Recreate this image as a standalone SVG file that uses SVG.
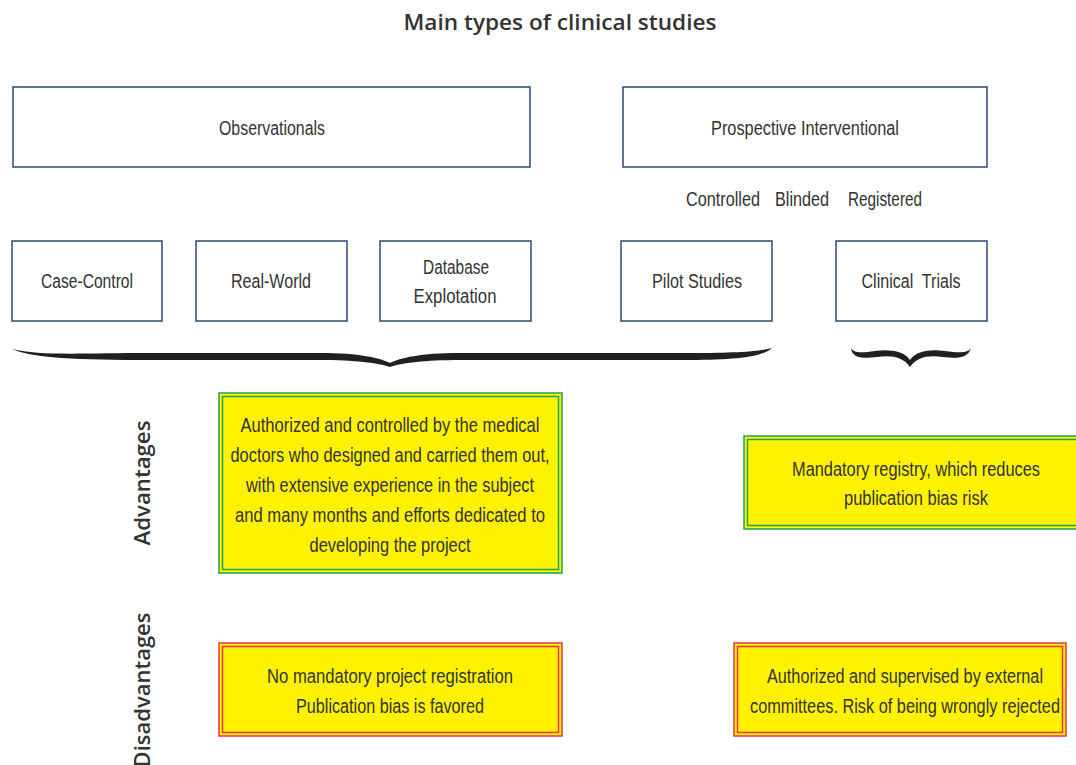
<svg xmlns="http://www.w3.org/2000/svg" width="1076" height="765" viewBox="0 0 1076 765">
<style>
.box{fill:#ffffff;stroke:#1f3d6d;stroke-width:1.4}
.t{font-family:"Liberation Sans",Arial,sans-serif;font-size:20px;fill:#333333;text-anchor:middle}
.title{font-family:"Open Sans","Liberation Sans",sans-serif;font-weight:600;font-size:22px;fill:#333333;text-anchor:middle}
.side{font-family:"Open Sans","Liberation Sans",sans-serif;font-weight:600;font-size:22px;fill:#333333;text-anchor:middle}
.gout{fill:#fff200;stroke:#1aa35a;stroke-width:1.5}
.gin{fill:#fff200;stroke:#1aa35a;stroke-width:1.5}
.rout{fill:#fff200;stroke:#e8334a;stroke-width:1.5}
.rin{fill:#fff200;stroke:#e8334a;stroke-width:1.5}
.brace{fill:#231f20}
</style>
<rect width="1076" height="765" fill="#ffffff"/>
<text class="title" x="560" y="30" textLength="313" lengthAdjust="spacingAndGlyphs">Main types of clinical studies</text>

<g id="observationals"><rect class="box" x="13" y="87" width="517" height="80"/><text class="t" x="272" y="135" textLength="106" lengthAdjust="spacingAndGlyphs">Observationals</text></g>
<g id="prospective"><rect class="box" x="623" y="87" width="364" height="80"/><text class="t" x="805" y="135" textLength="188" lengthAdjust="spacingAndGlyphs">Prospective Interventional</text></g>

<g id="attrs"><text class="t" x="723" y="206" textLength="74" lengthAdjust="spacingAndGlyphs">Controlled</text><text class="t" x="802" y="206" textLength="54" lengthAdjust="spacingAndGlyphs">Blinded</text><text class="t" x="885" y="206" textLength="74" lengthAdjust="spacingAndGlyphs">Registered</text></g>

<g id="case-control"><rect class="box" x="12" y="241" width="150" height="80"/><text class="t" x="87" y="288" textLength="92" lengthAdjust="spacingAndGlyphs">Case-Control</text></g>
<g id="real-world"><rect class="box" x="196" y="241" width="151" height="80"/><text class="t" x="271" y="288" textLength="80" lengthAdjust="spacingAndGlyphs">Real-World</text></g>
<g id="database"><rect class="box" x="380" y="241" width="151" height="80"/><text class="t" x="456" y="274" textLength="66" lengthAdjust="spacingAndGlyphs">Database</text><text class="t" x="455" y="303" textLength="83" lengthAdjust="spacingAndGlyphs">Explotation</text></g>
<g id="pilot"><rect class="box" x="621" y="241" width="151" height="80"/><text class="t" x="697" y="288" textLength="90" lengthAdjust="spacingAndGlyphs">Pilot Studies</text></g>
<g id="clinical"><rect class="box" x="836" y="241" width="151" height="80"/><text class="t" x="911" y="288" xml:space="preserve" textLength="99" lengthAdjust="spacingAndGlyphs">Clinical  Trials</text></g>

<g id="connectors">
<path class="brace" d="M12,349 C40,356 80,353 150,353 L320,353 C360,353 380,358 390,363 C400,358 420,353 460,353 L690,353 C740,353 762,351 772,348 C764,356 740,360 690,360 L460,360 C425,360 402,363 390,367 C378,363 355,360 320,360 L150,360 C80,360 30,358 12,349 Z"/>
<path class="brace" d="M851,348 C852,358 862,359 877,357 C892,355 903,357 910,367 C917,357 928,355 943,357 C958,359 968,358 971,348 C968,353 960,353 945,351 C930,349 916,351 910,360 C904,351 890,349 875,351 C860,353 854,353 851,348 Z"/>
</g>

<text class="side" transform="translate(150,483) rotate(-90)" textLength="125" lengthAdjust="spacingAndGlyphs">Advantages</text>
<text class="side" transform="translate(150,690) rotate(-90)">Disadvantages</text>

<g id="adv-left"><rect class="gout" x="219" y="393" width="343" height="180"/><rect class="gin" x="222.5" y="396.5" width="336" height="173"/>
<text class="t" x="390" y="432" textLength="299" lengthAdjust="spacingAndGlyphs">Authorized and controlled by the medical</text>
<text class="t" x="390" y="462" textLength="319" lengthAdjust="spacingAndGlyphs">doctors who designed and carried them out,</text>
<text class="t" x="390" y="492" textLength="288" lengthAdjust="spacingAndGlyphs">with extensive experience in the subject</text>
<text class="t" x="390" y="522" textLength="310" lengthAdjust="spacingAndGlyphs">and many months and efforts dedicated to</text>
<text class="t" x="390" y="552" textLength="161" lengthAdjust="spacingAndGlyphs">developing the project</text></g>

<g id="adv-right"><rect class="gout" x="744" y="436" width="340" height="93"/><rect class="gin" x="747.5" y="439.5" width="340" height="86"/>
<text class="t" x="916" y="476" textLength="248" lengthAdjust="spacingAndGlyphs">Mandatory registry, which reduces</text>
<text class="t" x="916" y="505" textLength="144" lengthAdjust="spacingAndGlyphs">publication bias risk</text></g>

<g id="dis-left"><rect class="rout" x="219" y="643" width="343" height="93"/><rect class="rin" x="222.5" y="646.5" width="336" height="86"/>
<text class="t" x="390" y="683" textLength="246" lengthAdjust="spacingAndGlyphs">No mandatory project registration</text>
<text class="t" x="390" y="713" textLength="188" lengthAdjust="spacingAndGlyphs">Publication bias is favored</text></g>

<g id="dis-right"><rect class="rout" x="734" y="643" width="332" height="93"/><rect class="rin" x="737.5" y="646.5" width="325" height="86"/>
<text class="t" x="905" y="683" textLength="276" lengthAdjust="spacingAndGlyphs">Authorized and supervised by external</text>
<text class="t" x="905" y="713" textLength="310" lengthAdjust="spacingAndGlyphs">committees. Risk of being wrongly rejected</text></g>
</svg>
